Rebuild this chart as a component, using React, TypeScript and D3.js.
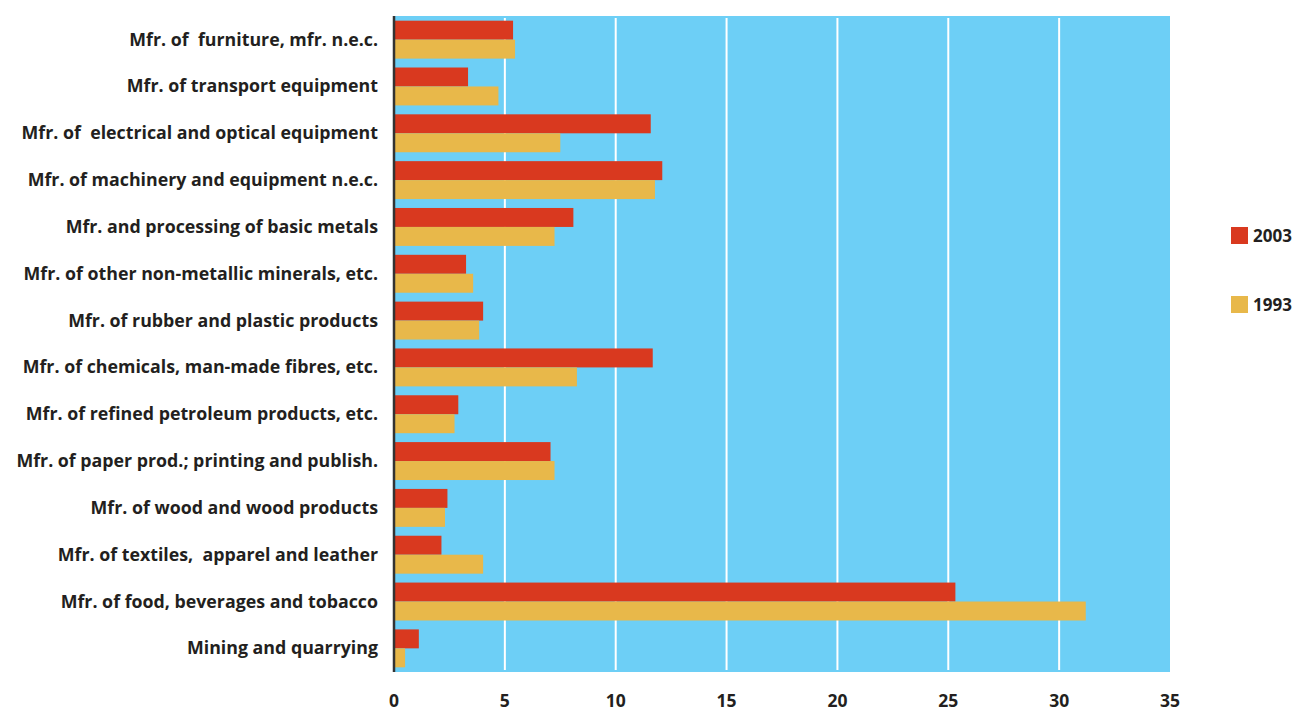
import React from 'react';
import * as d3 from 'd3';

const categories = [
  'Mfr. of  furniture, mfr. n.e.c.',
  'Mfr. of transport equipment',
  'Mfr. of  electrical and optical equipment',
  'Mfr. of machinery and equipment n.e.c.',
  'Mfr. and processing of basic metals',
  'Mfr. of other non-metallic minerals, etc.',
  'Mfr. of rubber and plastic products',
  'Mfr. of chemicals, man-made fibres, etc.',
  'Mfr. of refined petroleum products, etc.',
  'Mfr. of paper prod.; printing and publish.',
  'Mfr. of wood and wood products',
  'Mfr. of textiles,  apparel and leather',
  'Mfr. of food, beverages and tobacco',
  'Mining and quarrying',
];

const values2003 = [5.37, 3.34, 11.58, 12.1, 8.09, 3.25, 4.02, 11.67, 2.9, 7.06, 2.41, 2.14, 25.32, 1.12];
const values1993 = [5.46, 4.71, 7.5, 11.77, 7.24, 3.57, 3.84, 8.25, 2.73, 7.24, 2.3, 4.02, 31.2, 0.5];

const seriesNames = ['2003', '1993'];
const xTicks = [0, 5, 10, 15, 20, 25, 30, 35];

const COLORS = ['#d9391f', '#e8b84a'];
const BG = '#6dcff6';
const TEXT = '#231f20';
const FONT = '"Open Sans", sans-serif';

const App = () => {
  const width = 1296;
  const height = 713;
  const left = 394;
  const right = 1170;
  const top = 16;
  const bottom = 672;

  const xScale = d3.scaleLinear().domain([0, 35]).range([left, right]);
  const yScale = d3.scaleBand<string>()
    .domain(categories)
    .range([top, bottom])
    .paddingInner(0.19)
    .paddingOuter(0.1);
  const inner = d3.scaleBand<string>()
    .domain(seriesNames)
    .range([0, yScale.bandwidth()]);

  const series = [values2003, values1993];

  return (
    <svg width={width} height={height} style={{ position: 'absolute', left: 0, top: 0 }}>
      <rect x={left} y={top} width={right - left} height={bottom - top} fill={BG} />
      {xTicks.slice(1, -1).map((t) => (
        <line key={t} x1={xScale(t)} x2={xScale(t)} y1={top + 2} y2={bottom - 2} stroke="#fff" strokeWidth={2} />
      ))}
      {categories.map((c, i) => (
        <g key={c}>
          {series.map((vals, s) => (
            <rect
              key={s}
              x={xScale(0)}
              y={(yScale(c) as number) + (inner(seriesNames[s]) as number)}
              width={xScale(vals[i]) - xScale(0)}
              height={inner.bandwidth()}
              fill={COLORS[s]}
            />
          ))}
          <text
            x={378}
            y={(yScale(c) as number) + yScale.bandwidth() / 2 + 6}
            textAnchor="end"
            fontFamily={FONT}
            fontWeight={700}
            fontSize={17.8}
            fill={TEXT}
            style={{ whiteSpace: 'pre' }}
          >
            {c}
          </text>
        </g>
      ))}
      <line x1={left} x2={left} y1={top} y2={bottom} stroke="#333" strokeWidth={2.5} />
      {xTicks.map((t) => (
        <text
          key={t}
          x={xScale(t)}
          y={707}
          textAnchor="middle"
          fontFamily={FONT}
          fontWeight={700}
          fontSize={17.5}
          fill={TEXT}
        >
          {t}
        </text>
      ))}
      {seriesNames.map((name, s) => (
        <g key={name} transform={`translate(1231, ${227 + s * 69})`}>
          <rect x={0} y={0} width={17} height={17} fill={COLORS[s]} />
          <text x={22} y={15} fontFamily={FONT} fontWeight={700} fontSize={17} fill={TEXT}>
            {name}
          </text>
        </g>
      ))}
    </svg>
  );
};

export default App;
